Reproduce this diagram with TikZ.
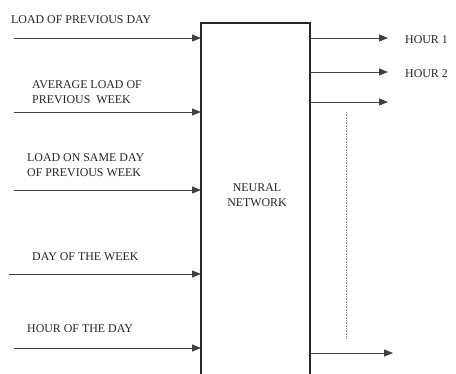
\documentclass[tikz,border=0pt]{standalone}
\usepackage{fontspec}
\setmainfont{Liberation Serif}
\usetikzlibrary{arrows.meta}
\begin{document}
\begin{tikzpicture}[x=1pt,y=-1pt,
  arr/.style={line width=0.8pt,draw=black!75,-{Triangle[length=9pt,width=7pt]}},
  lbl/.style={font=\fontsize{11.9}{14}\selectfont,text=black!85,inner sep=0pt,align=left,anchor=base west},
  nnbox/.style={draw=black!85,line width=1.6pt}]
\useasboundingbox (0,0) rectangle (456,374);
% box (open at the bottom)
\draw[nnbox] (201,378) -- (201,23) -- (310,23) -- (310,378);
\node[font=\fontsize{11.9}{15}\selectfont,text=black!85,align=center] (nn) at (257,195) {NEURAL\\NETWORK};
% input start coordinates
\coordinate (i1) at (14,38);
\coordinate (i2) at (14,112);
\coordinate (i3) at (14,190);
\coordinate (i4) at (9,274);
\coordinate (i5) at (14,348);
\coordinate (e1) at (201,38);
\coordinate (e2) at (201,112);
\coordinate (e3) at (201,190);
\coordinate (e4) at (201,274);
\coordinate (e5) at (201,348);
\foreach \k in {1,...,5} \draw[arr] (i\k) -- (e\k);
\node[lbl] (t1) at (11,24) {LOAD OF PREVIOUS DAY};
\node[lbl] (t2a) at (32,89) {AVERAGE LOAD OF};
\node[lbl] (t2b) at (32,104) {PREVIOUS\ \ WEEK};
\node[lbl] (t3a) at (27,162) {LOAD ON SAME DAY};
\node[lbl] (t3b) at (27,177) {OF PREVIOUS WEEK};
\node[lbl] (t4) at (32,261) {DAY OF THE WEEK};
\node[lbl] (t5) at (27,333) {HOUR OF THE DAY};
% outputs
\coordinate (o1) at (310,38);
\coordinate (o2) at (310,72);
\coordinate (o3) at (310,102);
\coordinate (o4) at (310,353);
\coordinate (f1) at (388,38);
\coordinate (f2) at (388,72);
\coordinate (f3) at (388,102);
\coordinate (f4) at (393,353);
\foreach \k in {1,...,4} \draw[arr] (o\k) -- (f\k);
\node[lbl] (h1) at (405,44) {HOUR 1};
\node[lbl] (h2) at (405,78) {HOUR 2};
% dotted line
\coordinate (d1) at (346,112);
\coordinate (d2) at (346,338);
\draw[black!45,line width=0.8pt,dash pattern=on 1pt off 0.6pt] (d1) -- (d2);
\end{tikzpicture}
\end{document}
